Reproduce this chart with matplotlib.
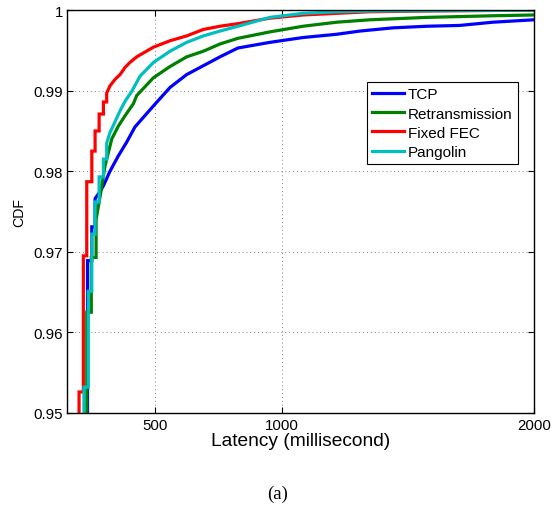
import matplotlib
matplotlib.use("Agg")
import matplotlib.pyplot as plt

plt.rcParams['font.family'] = ['Liberation Sans', 'DejaVu Sans']

# Latency (ms) and CDF values (step corners in the low region)
tcp_x = [231, 231, 248, 248, 261, 261, 281, 294, 320, 353, 386, 419, 492, 558, 624, 690, 756,
         827, 954, 1085, 1218, 1310, 1441, 1576, 1706, 1837, 2000]
tcp_y = [0.945, 0.9689, 0.9689, 0.9731, 0.9731, 0.9766, 0.9775, 0.9782, 0.9800, 0.9819, 0.9836,
         0.9855, 0.9881, 0.9904, 0.9920, 0.9931, 0.9942, 0.9953, 0.9960, 0.9966, 0.9970, 0.9974,
         0.9978, 0.9980, 0.9981, 0.9985, 0.9988]

retx_x = [228, 228, 246, 246, 265, 265, 281, 300, 327, 353, 380, 413, 426, 492, 558, 624, 690,
          756, 827, 954, 1085, 1218, 1350, 1576, 1837, 2000]
retx_y = [0.945, 0.9625, 0.9625, 0.9693, 0.9693, 0.9740, 0.9769, 0.9806, 0.9840, 0.9856, 0.9869,
          0.9884, 0.9894, 0.9916, 0.9930, 0.9942, 0.9949, 0.9958, 0.9965, 0.9973, 0.9980, 0.9985,
          0.9988, 0.9991, 0.9993, 0.9994]

ffec_x = [197.5, 197.5, 214.5, 214.5, 228, 228, 248, 248, 261, 261, 277, 277, 294, 294, 307, 307,
          320, 340, 360, 380, 399, 426, 459, 492, 558, 624, 690, 756, 822, 954, 1085, 1218, 1350,
          1600, 2000]
ffec_y = [0.945, 0.9526, 0.9526, 0.9695, 0.9695, 0.9787, 0.9787, 0.9825, 0.9825, 0.9850, 0.9850,
          0.9871, 0.9871, 0.9886, 0.9886, 0.9897, 0.9906, 0.9914, 0.9920, 0.9929, 0.9935, 0.9942,
          0.9948, 0.9954, 0.9962, 0.9968, 0.9976, 0.9980, 0.9983, 0.9990, 0.9994, 0.9996, 0.9998,
          0.9999, 1.0]

pang_x = [217, 217, 234, 234, 248, 248, 261, 261, 277, 277, 294, 294, 307, 307, 320, 360, 380,
          406, 439, 492, 558, 624, 690, 756, 827, 954, 1085, 1218, 1400, 2000]
pang_y = [0.945, 0.9532, 0.9532, 0.9651, 0.9651, 0.9722, 0.9722, 0.9762, 0.9762, 0.9793, 0.9793,
          0.9815, 0.9815, 0.9835, 0.9848, 0.9875, 0.9887, 0.9899, 0.9918, 0.9935, 0.9949, 0.9960,
          0.9968, 0.9974, 0.9980, 0.9991, 0.9996, 0.9998, 0.9999, 1.0]

labels = ['TCP', 'Retransmission', 'Fixed FEC', 'Pangolin']
colors = ['#0000ff', '#008000', '#ff0000', '#00bfbf']
xticks = [500, 1000, 2000]
yticks = [0.95, 0.96, 0.97, 0.98, 0.99, 1.0]
ytick_labels = ['0.95', '0.96', '0.97', '0.98', '0.99', '1']

fig = plt.figure(figsize=(5.59, 5.06), dpi=100)
ax = fig.add_axes([0.12, 0.182, 0.835, 0.796])

for xs, ys, lab, col in zip([tcp_x, retx_x, ffec_x, pang_x], [tcp_y, retx_y, ffec_y, pang_y],
                            labels, colors):
    ax.plot(xs, ys, color=col, linewidth=2.3, label=lab, solid_joinstyle='miter')

ax.set_xlim(150, 2000)
ax.set_ylim(0.95, 1.0)
ax.set_xticks(xticks)
ax.set_xticklabels([str(t) for t in xticks], fontsize=10.8)
ax.set_yticks(yticks)
ax.set_yticklabels(ytick_labels, fontsize=10.8)
ax.tick_params(direction='in', top=True, right=True, length=4, width=0.8)
ax.tick_params(axis='y', pad=3)
ax.tick_params(axis='x', pad=4)
ax.grid(True, linestyle=(0, (1, 3)), color='#808080', linewidth=0.7)
for s in ax.spines.values():
    s.set_linewidth(1.0)

ax.set_xlabel('Latency (millisecond)', fontsize=13.8, labelpad=0)
ax.set_ylabel('CDF', fontsize=10.2, labelpad=5)

leg = ax.legend(loc='upper right', bbox_to_anchor=(0.9657, 0.8213), fontsize=11,
                frameon=True, fancybox=False, edgecolor='black', framealpha=1,
                handlelength=2.1, handletextpad=0.25, borderpad=0.35, labelspacing=0.34,
                borderaxespad=0)
leg.get_frame().set_linewidth(0.8)

fig.text(0.497, 0.006, '(a)', fontsize=13.5, family='Liberation Serif', ha='center', va='bottom')

fig.savefig('out.png', dpi=100)
